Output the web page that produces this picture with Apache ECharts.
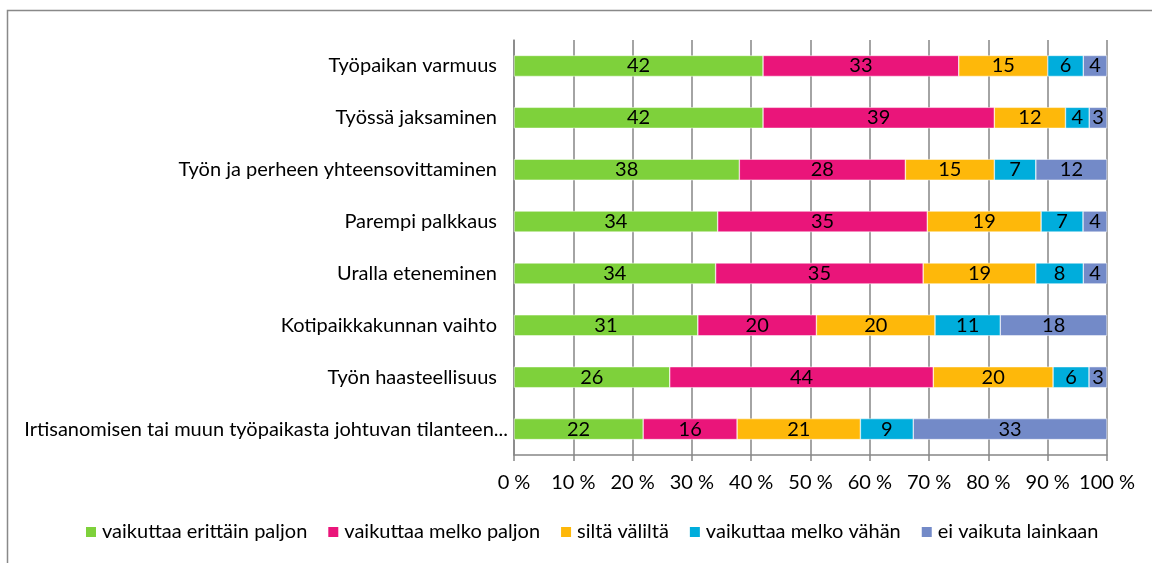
<!DOCTYPE html>
<html>
<head>
<meta charset="utf-8">
<script src="https://cdn.jsdelivr.net/npm/echarts@6/dist/echarts.min.js"></script>
<style>
  html, body { margin: 0; padding: 0; background: #fff; }
  #chart { width: 1152px; height: 563px; }
</style>
</head>
<body>
<div id="chart"></div>
<script>
// categories, top to bottom
const categories = [
    'Työpaikan varmuus',
    'Työssä jaksaminen',
    'Työn ja perheen yhteensovittaminen',
    'Parempi palkkaus',
    'Uralla eteneminen',
    'Kotipaikkakunnan vaihto',
    'Työn haasteellisuus',
    'Irtisanomisen tai muun työpaikasta johtuvan tilanteen...'
]
const seriesNames = ['vaikuttaa erittäin paljon', 'vaikuttaa melko paljon', 'siltä väliltä', 'vaikuttaa melko vähän', 'ei vaikuta lainkaan']
const erittainPaljon = [42, 42, 38, 34, 34, 31, 26, 22]
const melkoPaljon    = [33, 39, 28, 35, 35, 20, 44, 16]
const siltaValilta   = [15, 12, 15, 19, 19, 20, 20, 21]
const melkoVahan     = [6, 4, 7, 7, 8, 11, 6, 9]
const eiLainkaan     = [4, 3, 12, 4, 4, 18, 3, 33]
const xTicks = ['0 %', '10 %', '20 %', '30 %', '40 %', '50 %', '60 %', '70 %', '80 %', '90 %', '100 %']

const colors = ['#7ED13B', '#EA157A', '#FEB80A', '#00ADDC', '#738AC8']
const raw = [erittainPaljon, melkoPaljon, siltaValilta, melkoVahan, eiLainkaan]
// each row is shown as 100 % stacked
const rowSum = categories.map((c, i) => raw.reduce((t, s) => t + s[i], 0))

const font = 'Lato, "Open Sans", sans-serif'
const fs = 20

let chart = echarts.init(document.getElementById('chart'))
chart.setOption({
    animation: false,
    textStyle: { fontFamily: font },
    graphic: [{
        type: 'rect',
        shape: { x: 7.5, y: 10.5, width: 1200, height: 600 },
        style: { fill: 'none', stroke: '#898989', lineWidth: 1.5 },
        silent: true
    }],
    legend: {
        top: 522,
        left: 84,
        padding: 0,
        icon: 'rect',
        itemWidth: 12,
        itemHeight: 12,
        itemGap: 19,
        textStyle: { fontSize: fs, color: '#000', fontFamily: font },
        data: seriesNames
    },
    grid: {
        left: 514,
        right: 45,
        top: 40,
        bottom: 108
    },
    xAxis: {
        type: 'value',
        min: 0,
        max: 100,
        interval: 10,
        axisLine: { show: true, lineStyle: { color: '#868686', width: 1.5 } },
        axisTick: { show: true, length: 6, lineStyle: { color: '#868686', width: 1.5 } },
        splitLine: { lineStyle: { color: '#868686', width: 1.5 } },
        axisLabel: {
            margin: 18,
            fontSize: fs,
            color: '#000',
            fontFamily: font,
            formatter: (v) => xTicks[Math.round(v / 10)]
        }
    },
    yAxis: {
        type: 'category',
        inverse: true,
        data: categories,
        axisLine: { lineStyle: { color: '#868686', width: 1.5 } },
        axisTick: { length: 6, lineStyle: { color: '#868686', width: 1.5 } },
        axisLabel: {
            fontSize: fs, color: '#000', margin: 17, fontFamily: font,
            // the truncated label runs a bit closer to the axis
            formatter: (v, i) => i === categories.length - 1 ? '{long|' + v + '}' : v,
            rich: { long: { fontSize: fs, color: '#000', fontFamily: font, padding: [0, -11, 0, 0] } }
        }
    },
    series: raw.map((s, k) => ({
        name: seriesNames[k],
        type: 'bar',
        stack: 'total',
        barWidth: 21,
        itemStyle: { color: colors[k], borderColor: '#fff', borderWidth: 0.5 },
        label: {
            show: true,
            position: 'inside',
            fontSize: fs,
            color: '#000',
            fontFamily: font,
            formatter: (p) => s[p.dataIndex]
        },
        data: s.map((v, i) => v / rowSum[i] * 100)
    }))
})
</script>
</body>
</html>
